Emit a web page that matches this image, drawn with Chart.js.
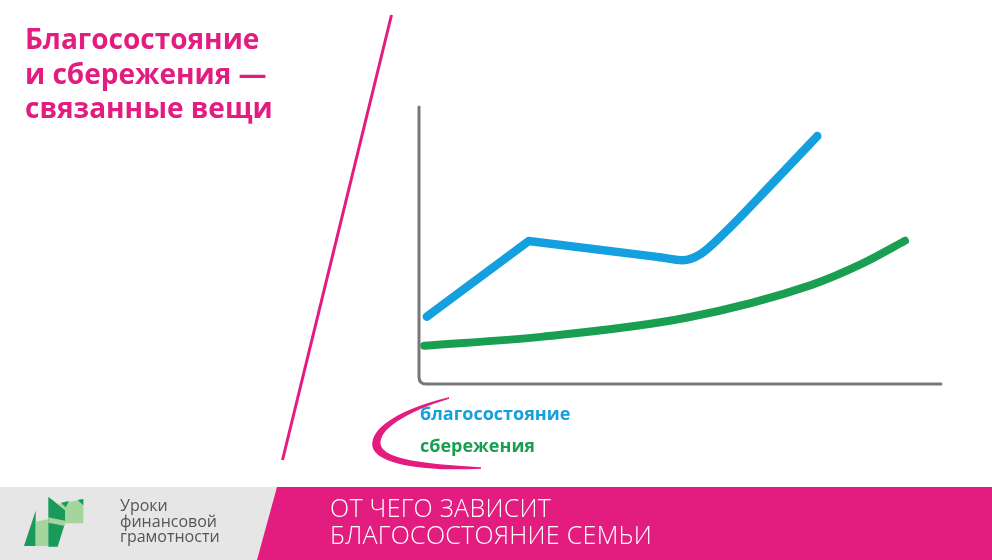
<!DOCTYPE html>
<html lang="ru">
<head>
<meta charset="utf-8">
<script src="https://cdn.jsdelivr.net/npm/chart.js@4.4.1/dist/chart.umd.min.js"></script>
<style>
  html, body { margin: 0; padding: 0; background: #ffffff; }
  #wrap { position: relative; width: 992px; height: 560px; overflow: hidden; background: #ffffff; font-family: "Open Sans", "DejaVu Sans", sans-serif; }
  #c { position: absolute; left: 0; top: 0; }
  .abs { position: absolute; margin: 0; white-space: nowrap; }
  #title { left: 25px; top: 21px; color: #e31c80; font-size: 28px; font-weight: 700; line-height: 34.5px; }
  #legend { left: 420px; top: 397px; font-size: 18px; font-weight: 700; line-height: 32px; }
  #brand { left: 120px; top: 498px; color: #555555; font-size: 16px; line-height: 15.5px; }
  #subject { left: 330px; top: 493.5px; color: #ffffff; font-size: 25px; font-weight: 300; line-height: 27.5px; letter-spacing: 0.3px; }
  svg { position: absolute; left: 0; top: 0; }
</style>
</head>
<body>
<div id="wrap">
  <svg width="992" height="560" viewBox="0 0 992 560">
    <line x1="391.5" y1="15" x2="282.5" y2="460" stroke="#e31c80" stroke-width="3"/>
    <path d="M449,398 C400,410 371,428 373,446 C376,463 420,471 481,468 C424,465 383,460 380,445 C377,430 405,411 449,398 Z" fill="#e31c80" stroke="#e31c80" stroke-width="1.4"/>
    <rect x="0" y="487" width="992" height="73" fill="#e6e6e6"/>
    <polygon points="277,487 992,487 992,560 257,560" fill="#e31c80"/>
  </svg>
  <svg width="80" height="65" viewBox="0 0 240 195" style="left:15px; top:490px;">
    <path d="M62,62 L27,168 L62,168 Z" fill="#19995a"/>
    <path d="M62,95 L100,88 L100,168 L62,168 Z" fill="#a3d59c"/>
    <path d="M100,20 L150,60 L150,100 L128,170 L100,170 Z" fill="#19995a"/>
    <path d="M100,82 L150,92 L150,108 L100,98 Z" fill="#a3d59c"/>
    <path d="M130,42 L205,28 L205,100 L150,100 L150,60 Z" fill="#a3d59c"/>
    <path d="M138,38 L162,33 L152,52 Z" fill="#19995a"/>
    <path d="M188,30 L205,27 L205,46 Z" fill="#19995a"/>
  </svg>
  <canvas id="c" width="992" height="560"></canvas>
  <div id="title" class="abs">Благосостояние<br>и сбережения —<br>связанные вещи</div>
  <div id="legend" class="abs"></div>
  <div id="brand" class="abs">Уроки<br>финансовой<br>грамотности</div>
  <div id="subject" class="abs">ОТ ЧЕГО ЗАВИСИТ<br>БЛАГОСОСТОЯНИЕ СЕМЬИ</div>
</div>
<script>
// ---- data (arbitrary units, 0..10 on both axes) ----
const seriesNames = ["благосостояние", "сбережения"];
const seriesColors = ["#14a0de", "#1a9f52"];
// wealth: straight rise and slow decline, then a smooth upturn
const wealthLineX = [0.15, 2.10, 4.60];
const wealthLineY = [2.43, 5.16, 4.58];
const wealthCurveX = [4.60, 5.05, 5.40, 5.85, 6.75, 7.63];
const wealthCurveY = [4.58, 4.47, 4.70, 5.45, 7.20, 8.95];
// savings: slow accelerating growth
const savingsX = [0.10, 2.38, 5.12, 7.51, 8.52, 9.31];
const savingsY = [1.38, 1.71, 2.39, 3.57, 4.37, 5.17];

const toPts = (xs, ys) => xs.map((x, i) => ({ x: x, y: ys[i] }));

// legend text from the series names
const leg = document.getElementById('legend');
seriesNames.forEach((n, i) => {
  const d = document.createElement('div');
  d.textContent = n;
  d.style.color = seriesColors[i];
  leg.appendChild(d);
});

const axesPlugin = {
  id: 'axesPlugin',
  beforeDatasetsDraw(chart) {
    const ctx = chart.ctx;
    const xs = chart.scales.x, ys = chart.scales.y;
    const x0 = xs.getPixelForValue(xs.min);
    const x1 = xs.getPixelForValue(xs.max);
    const y0 = ys.getPixelForValue(ys.min);
    const y1 = ys.getPixelForValue(ys.max);
    const r = 7;
    ctx.save();
    ctx.strokeStyle = '#787878';
    ctx.lineWidth = 3;
    ctx.lineCap = 'round';
    ctx.beginPath();
    ctx.moveTo(x0, y1);
    ctx.lineTo(x0, y0 - r);
    ctx.quadraticCurveTo(x0, y0, x0 + r, y0);
    ctx.lineTo(x1, y0);
    ctx.stroke();
    ctx.restore();
  }
};

const lineStyle = (color, width) => ({
  borderColor: color,
  borderWidth: width,
  borderCapStyle: 'round',
  borderJoinStyle: 'round',
  pointRadius: 0,
  fill: false,
  clip: false
});

new Chart(document.getElementById('c'), {
  type: 'line',
  data: {
    datasets: [
      Object.assign({ label: seriesNames[0], data: toPts(wealthLineX, wealthLineY), tension: 0 }, lineStyle(seriesColors[0], 8.5)),
      Object.assign({ label: seriesNames[0], data: toPts(wealthCurveX, wealthCurveY), tension: 0.4, cubicInterpolationMode: 'monotone' }, lineStyle(seriesColors[0], 8.5)),
      Object.assign({ label: seriesNames[1], data: toPts(savingsX, savingsY), tension: 0.4, cubicInterpolationMode: 'monotone' }, lineStyle(seriesColors[1], 8))
    ]
  },
  options: {
    responsive: false,
    animation: false,
    layout: { padding: { left: 419, right: 51, top: 107, bottom: 176 } },
    plugins: { legend: { display: false }, tooltip: { enabled: false }, title: { display: false } },
    scales: {
      x: { type: 'linear', min: 0, max: 10, display: false },
      y: { type: 'linear', min: 0, max: 10, display: false }
    }
  },
  plugins: [axesPlugin]
});
</script>
</body>
</html>
